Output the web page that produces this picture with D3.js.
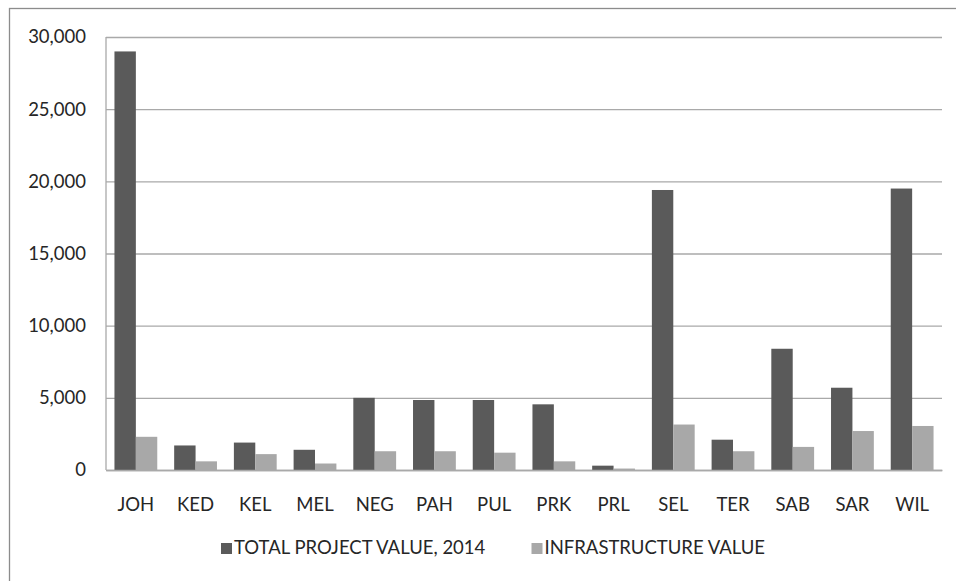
<!DOCTYPE html>
<html><head><meta charset="utf-8">
<script src="https://cdn.jsdelivr.net/npm/d3@7"></script>
<style>
body{margin:0;background:#fff;}
text{font-family:Lato, "Open Sans", sans-serif;fill:#262626;}
</style></head>
<body>
<svg id="c" width="956" height="581"></svg>
<script>
const categories = ["JOH","KED","KEL","MEL","NEG","PAH","PUL","PRK","PRL","SEL","TER","SAB","SAR","WIL"];
const totalProjectValue = [29000,1700,1900,1400,5000,4850,4850,4550,300,19400,2100,8400,5700,19500];
const infrastructureValue = [2300,600,1100,450,1300,1300,1200,600,100,3150,1300,1600,2700,3050];
const seriesNames = ["TOTAL PROJECT VALUE, 2014","INFRASTRUCTURE VALUE"];
const yTicks = [0,5000,10000,15000,20000,25000,30000];
const colors = ["#5a5a5a","#a8a8a8"];

const svg = d3.select("#c");
const W = 956, H = 581;
const m = {left:106, right:W-942, top:37, bottom:H-470};

svg.append("rect").attr("x",9.5).attr("y",8.5).attr("width",W+10).attr("height",H+10)
  .attr("fill","#fff").attr("stroke","#8c8c8c").attr("stroke-width",1.3);

const x0 = d3.scaleBand().domain(categories).range([m.left, W-m.right]).paddingInner(0).paddingOuter(0);
const barW = 21.4;
const x1 = d3.scaleBand().domain([0,1]).range([0, x0.bandwidth()]).paddingInner(0)
  .paddingOuter((x0.bandwidth()/barW - 2)/2);
const y = d3.scaleLinear().domain([0,30000]).range([H-m.bottom, m.top]);

// gridlines
const gy = svg.append("g").attr("transform",`translate(${m.left},0)`)
  .call(d3.axisLeft(y).tickValues(yTicks).tickSize(-(W-m.left-m.right)).tickFormat(d3.format(",")).tickPadding(20));
gy.select(".domain").remove();
gy.selectAll(".tick line").attr("stroke","#a9a9a9").attr("stroke-width",1.3);
gy.selectAll(".tick text").attr("font-size",18.5).attr("fill","#262626").attr("x",-20);

// bars
const groups = svg.append("g").selectAll("g").data(categories).join("g")
  .attr("transform",d=>`translate(${x0(d)},0)`);
const seriesData = [totalProjectValue, infrastructureValue];
groups.selectAll("rect").data((d,i)=>[0,1].map(s=>({s, v:seriesData[s][i]}))).join("rect")
  .attr("x",d=>x1(d.s)).attr("width",x1.bandwidth())
  .attr("y",d=>y(d.v)).attr("height",d=>y(0)-y(d.v))
  .attr("fill",d=>colors[d.s]);

// axes lines
svg.append("line").attr("x1",m.left).attr("x2",m.left).attr("y1",m.top).attr("y2",y(0))
  .attr("stroke","#a9a9a9").attr("stroke-width",1.3);
const gx = svg.append("g").attr("transform",`translate(0,${y(0)})`)
  .call(d3.axisBottom(x0).tickSize(0).tickPadding(28));
gx.select(".domain").attr("stroke","#a9a9a9").attr("stroke-width",1.3);
gx.selectAll(".tick text").attr("font-size",18.5).attr("fill","#262626");

// legend
const leg = svg.append("g");
const legX = [221, 531.5];
seriesNames.forEach((n,i)=>{
  leg.append("rect").attr("x",legX[i]).attr("y",543).attr("width",11).attr("height",11).attr("fill",colors[i]);
  leg.append("text").attr("x",legX[i]+13).attr("y",554).attr("font-size",18.5).text(n);
});
</script>
</body></html>
